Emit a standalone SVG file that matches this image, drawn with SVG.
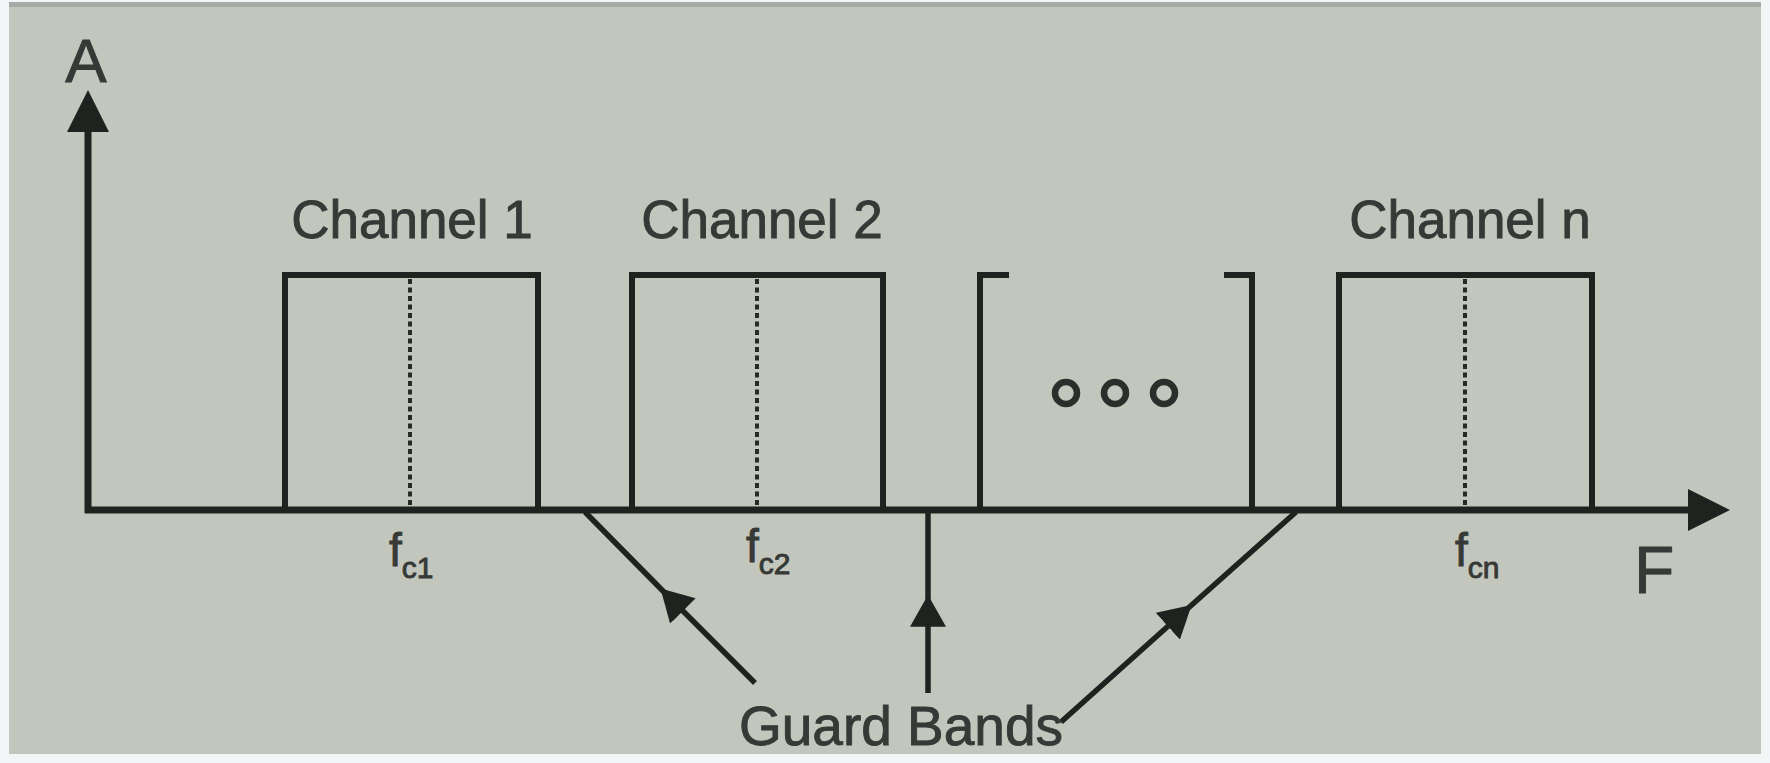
<svg xmlns="http://www.w3.org/2000/svg" width="1770" height="763" viewBox="0 0 1770 763">
  <style>
    .ln { fill: none; stroke: #1f231f; stroke-width: 6; stroke-linecap: square; }
    .ax { fill: none; stroke: #1f231f; stroke-width: 7; }
    .dot { fill: none; stroke: #262a26; stroke-width: 4; stroke-dasharray: 5 3.5; }
    .lbl { font-family: "Liberation Sans", Arial, sans-serif; fill: #363936; stroke: #363936; stroke-width: 0.9; }
    .ch { font-size: 53px; text-anchor: middle; }
    .fq { font-size: 46px; }
    .sub { font-size: 30px; }
    .gl { fill: none; stroke: #1f231f; stroke-width: 5.5; }
    .ring { fill: none; stroke: #2b2f2b; stroke-width: 6.5; }
  </style>
  <defs>
    <marker id="axHead" markerUnits="userSpaceOnUse" markerWidth="42" markerHeight="42" viewBox="0 0 40 40" refX="0" refY="20" orient="auto">
      <path d="M0,0 L40,20 L0,40 z" fill="#1f231f"/>
    </marker>
    <marker id="gbHead" markerUnits="userSpaceOnUse" markerWidth="32" markerHeight="36" viewBox="0 0 30 34" refX="28" refY="17" orient="auto">
      <path d="M0,0 L30,17 L0,34 z" fill="#1f231f"/>
    </marker>
  </defs>

  <!-- page and panel background -->
  <rect x="0" y="0" width="1770" height="763" fill="#f4f5f6"/>
  <rect x="9" y="2" width="1752" height="752" fill="#c3c6bd"/>
  <rect x="9" y="2" width="1752" height="5" fill="#a7aca9"/>

  <!-- axes -->
  <g id="axes">
    <line class="ax" x1="88" y1="513" x2="88" y2="132" marker-end="url(#axHead)"/>
    <line class="ax" x1="85" y1="510" x2="1688" y2="510" marker-end="url(#axHead)"/>
    <text class="lbl" x="86" y="82" font-size="62" text-anchor="middle">A</text>
    <text class="lbl" x="1634" y="593" font-size="66">F</text>
  </g>

  <!-- channel 1 -->
  <g id="channel1">
    <path class="ln" d="M285,510 V275 H538 V510"/>
    <line class="dot" x1="410" y1="279" x2="410" y2="507"/>
    <text class="lbl ch" x="412" y="238">Channel 1</text>
    <text class="lbl" x="389" y="566"><tspan class="fq">f</tspan><tspan class="sub" dy="12">c1</tspan></text>
  </g>

  <!-- channel 2 -->
  <g id="channel2">
    <path class="ln" d="M632,510 V275 H883 V510"/>
    <line class="dot" x1="757" y1="279" x2="757" y2="507"/>
    <text class="lbl ch" x="762" y="238">Channel 2</text>
    <text class="lbl" x="746" y="562"><tspan class="fq">f</tspan><tspan class="sub" dy="12">c2</tspan></text>
  </g>

  <!-- intermediate channels -->
  <g id="ellipsis">
    <path class="ln" d="M1006,275 H980 V510"/>
    <path class="ln" d="M1227,275 H1252 V510"/>
    <circle class="ring" cx="1066" cy="393" r="11"/>
    <circle class="ring" cx="1115" cy="393" r="11"/>
    <circle class="ring" cx="1164" cy="393" r="11"/>
  </g>

  <!-- channel n -->
  <g id="channelN">
    <path class="ln" d="M1339,510 V275 H1592 V510"/>
    <line class="dot" x1="1465" y1="279" x2="1465" y2="507"/>
    <text class="lbl ch" x="1470" y="238">Channel n</text>
    <text class="lbl" x="1455" y="566"><tspan class="fq">f</tspan><tspan class="sub" dy="12">cn</tspan></text>
  </g>

  <!-- guard band pointers -->
  <g id="connectors">
    <path class="gl" d="M755,683 L662,590 L585,512" marker-mid="url(#gbHead)"/>
    <path class="gl" d="M928,693 L928,597 L928,512" marker-mid="url(#gbHead)"/>
    <path class="gl" d="M1061,722 L1190,606.5 L1296,512" marker-mid="url(#gbHead)"/>
  </g>

  <g id="guardBandsLabel">
    <text class="lbl" x="901" y="745" font-size="55" text-anchor="middle">Guard Bands</text>
  </g>
</svg>
